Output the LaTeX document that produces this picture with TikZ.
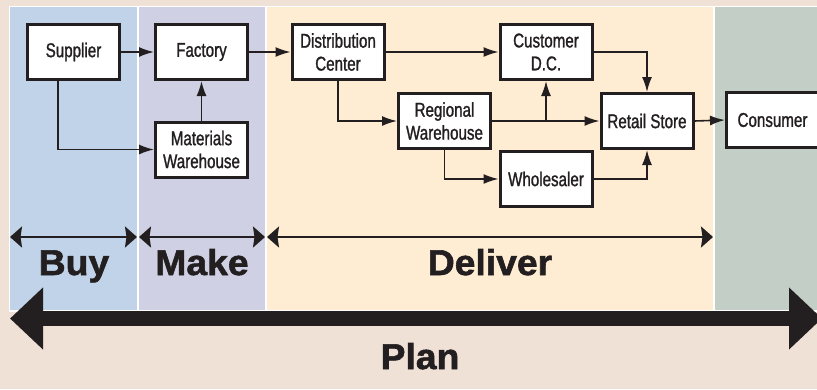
\documentclass[tikz,border=0pt]{standalone}
\usepackage{fontspec}
\setmainfont{Liberation Sans}
\newfontfamily\boxfont{Liberation Sans}[FakeStretch=0.76, FakeBold=1.2]
\newfontfamily\phasefont{Liberation Sans}[FakeStretch=1.04, FakeBold=1.6]
\usetikzlibrary{arrows.meta}
\definecolor{ink}{HTML}{231F20}
\definecolor{bgbeige}{HTML}{EFE1D5}
\definecolor{buyblue}{HTML}{C0D3E8}
\definecolor{makelav}{HTML}{CFD0E3}
\definecolor{delpeach}{HTML}{FEEDD3}
\definecolor{usergreen}{HTML}{C3CEC6}
\begin{document}
\begin{tikzpicture}[
    x=1bp, y=-1bp,
    font=\boxfont\fontsize{20}{23}\selectfont,
    stage/.style={draw=white, line width=1.5bp},
    box/.style={draw=ink, line width=3bp, fill=white, text=ink, align=center, minimum width=92bp, minimum height=55bp, inner sep=0pt},
    flow/.style={-{Latex[length=15bp,width=10bp]}, line width=1.6bp, draw=ink},
    span/.style={arrows={Stealth[length=12bp,width=21bp,inset=1.5bp]-Stealth[length=12bp,width=21bp,inset=1.5bp]}, line width=2bp, draw=ink},
    plan/.style={arrows={Triangle[length=33bp,width=60bp]-Triangle[length=33bp,width=60bp]}, line width=15bp, draw=ink},
    phase/.style={font=\phasefont\bfseries\fontsize{36}{40}\selectfont, text=ink, anchor=base, inner sep=0pt}
]

\def\spany{237}

\useasboundingbox (0,0) rectangle (817,389);
\clip (0,0) rectangle (817,389);
\fill[bgbeige] (0,0) rectangle (817,389);

% Faixas das etapas
\foreach \xa/\xb/\col in {9.5/138/buyblue, 138/266/makelav, 266/714/delpeach, 714/830/usergreen}
  \draw[stage, fill=\col] (\xa,6.5) rectangle (\xb,311);

% Elos da cadeia
\node[box] (sup) at (73.5,52) {Supplier};
\node[box] (fac) at (201.5,52) {Factory};
\node[box] (mat) at (201.5,149.5) {Materials\\Warehouse};
\node[box] (dc) at (338,52) {Distribution\\Center};
\node[box] (cdc) at (546,52) {Customer\\D.C.};
\node[box] (rw) at (444.5,121) {Regional\\Warehouse};
\node[box] (whs) at (546,179) {Wholesaler};
\node[box] (rs) at (647,121) {Retail Store};
\node[box] (con) at (772.5,120) {Consumer};

% Fluxo de material
\draw[flow] (sup.east) -- (fac.west);
\draw[flow] ([xshift=-15.5bp]sup.south) |- (mat.west);
\draw[flow] (mat.north) -- (fac.south);
\draw[flow] (fac.east) -- (dc.west);
\draw[flow] (dc.east) -- (cdc.west);
\draw[flow] (dc.south) |- (rw.west);
\draw[flow] (rw.east) -- (rs.west);
\draw[flow] (rw.east -| cdc.south) -- (cdc.south);
\draw[flow] (rw.south) |- (whs.west);
\draw[flow] (cdc.east) -| (rs.north);
\draw[flow] (whs.east) -| (rs.south);
\draw[flow] (rs.east) -- (con.west);

% Etapas
\coordinate (b0) at (10,\spany);
\coordinate (b1) at (137,\spany);
\coordinate (m0) at (139,\spany);
\coordinate (m1) at (265,\spany);
\coordinate (d0) at (267,\spany);
\coordinate (d1) at (713,\spany);
\draw[span] (b0) -- (b1);
\draw[span] (m0) -- (m1);
\draw[span] (d0) -- (d1);

\node[phase] (buy) at (74,275) {Buy};
\node[phase] (make) at (202,275) {Make};
\node[phase] (deliver) at (490,275) {Deliver};

% Planejamento
\coordinate (p0) at (10,318.5);
\coordinate (p1) at (822,318.5);
\draw[plan] (p0) -- (p1);
\node[phase] (plan) at (420,369) {Plan};

\end{tikzpicture}
\end{document}
